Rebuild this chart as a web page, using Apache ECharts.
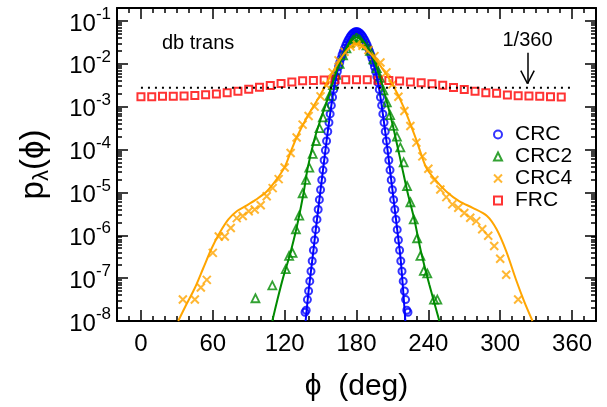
<!DOCTYPE html>
<html><head><meta charset="utf-8">
<script src="https://cdn.jsdelivr.net/npm/echarts@6/dist/echarts.min.js"></script>
<style>html,body{margin:0;padding:0;background:#fff}#c{width:607px;height:407px}</style>
</head><body><div id="c"></div>
<script>
// ---------------- data ----------------
const crcX = [137,138,139,140,141,142,143,144,145,146,147,148,149,150,151,152,153,154,155,156,157,158,159,160,161,162,163,164,165,166,167,168,169,170,171,172,173,174,175,176,177,178,179,180,181,182,183,184,185,186,187,188,189,190,191,192,193,194,195,196,197,198,199,200,201,202,203,204,205,206,207,208,209,210,211,212,213,214,215,216,217,218,219,220,221,222,223];
const crcY = [1.6e-8,1.78e-8,3.16e-8,5.01e-8,8.51e-8,1.45e-7,2.51e-7,4.47e-7,7.76e-7,1.35e-6,2.34e-6,3.98e-6,6.76e-6,1.15e-5,1.95e-5,3.31e-5,5.62e-5,9.55e-5,1.58e-4,2.63e-4,4.27e-4,6.76e-4,1.07e-3,1.66e-3,2.51e-3,3.63e-3,5.01e-3,6.61e-3,8.51e-3,1.07e-2,1.32e-2,1.62e-2,1.95e-2,2.29e-2,2.69e-2,3.09e-2,3.55e-2,3.98e-2,4.42e-2,4.79e-2,5.13e-2,5.37e-2,5.56e-2,5.62e-2,5.56e-2,5.37e-2,5.13e-2,4.79e-2,4.42e-2,3.98e-2,3.55e-2,3.09e-2,2.69e-2,2.29e-2,1.95e-2,1.62e-2,1.32e-2,1.07e-2,8.51e-3,6.61e-3,5.01e-3,3.63e-3,2.51e-3,1.66e-3,1.07e-3,6.76e-4,4.27e-4,2.63e-4,1.58e-4,9.55e-5,5.62e-5,3.31e-5,1.95e-5,1.15e-5,6.76e-6,3.98e-6,2.34e-6,1.35e-6,7.76e-7,4.47e-7,2.51e-7,1.45e-7,8.51e-8,5.01e-8,3.16e-8,1.78e-8,1.6e-8];
const crcFitX = [137.5,140,143,146,149,152,155,158,161,164,167,170,173,176,180,184,187,190,193,196,199,202,205,208,211,214,217,220.8];
const crcFitY = [1e-8,5.01e-8,2.51e-7,1.35e-6,6.76e-6,3.31e-5,1.58e-4,6.76e-4,2.51e-3,6.61e-3,1.32e-2,2.29e-2,3.55e-2,4.79e-2,5.62e-2,4.79e-2,3.55e-2,2.29e-2,1.32e-2,6.61e-3,2.51e-3,6.76e-4,1.58e-4,3.31e-5,6.76e-6,1.35e-6,2.51e-7,1e-8];

const crc2X = [95.6,109.7,120.9,123.75,126.6,129.4,132.2,135,137.8,140.6,143.4,146.25,149.1,151.9,154.7,157.5,160.3,163.1,165.9,168.75,171.6,174.4,177.2,180,182.8,185.6,188.4,191.25,194.1,196.9,199.7,202.5,205.3,208.1,210.9,213.75,216.6,219.4,222.2,225,227.8,230.6,233.4,236.25,239.1,244.7,247.5];
const crc2Y = [3.39e-8,6.76e-8,1.62e-7,3.31e-7,3.89e-7,1.38e-6,2.88e-6,9.55e-6,1.95e-5,3.8e-5,7.94e-5,1.58e-4,3.16e-4,5.62e-4,1.0e-3,1.78e-3,3.16e-3,5.5e-3,1.0e-2,1.58e-2,2.29e-2,3.09e-2,3.8e-2,4.27e-2,3.98e-2,3.39e-2,2.69e-2,2.0e-2,1.26e-2,7.94e-3,4.68e-3,2.4e-3,1.26e-3,6.31e-4,3.55e-4,2.0e-4,1.12e-4,5.01e-5,1.41e-5,5.89e-6,2.34e-6,8.51e-7,3.31e-7,1.48e-7,1.29e-7,3.16e-8,3.16e-8];
const crc2FitX = [109.7,114,118.6,124.2,129.7,135.3,139.4,145,150,155,160,165,170,175,180,185,190,195,200,205,210,214,218,222.8,228.3,233.9,240.8,249.2];
const crc2FitY = [1e-8,3.16e-8,1e-7,3.39e-7,1.38e-6,8.13e-6,3.89e-5,1.78e-4,5.01e-4,1.26e-3,3.55e-3,8.91e-3,1.91e-2,3.31e-2,4.17e-2,3.55e-2,2.24e-2,1.12e-2,4.47e-3,1.41e-3,3.98e-4,1.26e-4,3.89e-5,9.55e-6,2.34e-6,4.07e-7,7.08e-8,1e-8];

const crc4X = [35,45,50,55,60,65,70,75,80,85,90,95,100,105,110,115,120,125,130,135,140,145,150,155,160,165,170,175,180,185,190,195,200,205,210,215,220,225,230,235,240,245,250,255,260,265,270,275,280,285,290,295,300,305,315];
const crc4Y = [3.16e-8,3.16e-8,6.03e-8,9.12e-8,3.89e-7,9.33e-7,9.33e-7,1.48e-6,2.51e-6,2.82e-6,3.63e-6,3.98e-6,5.01e-6,8.13e-6,1.26e-5,2.04e-5,3.8e-5,8.32e-5,1.91e-4,3.8e-4,6.03e-4,1.0e-3,1.74e-3,3.16e-3,6.31e-3,1.2e-2,1.91e-2,2.51e-2,2.82e-2,2.63e-2,2.09e-2,1.51e-2,1.07e-2,6.31e-3,3.31e-3,1.7e-3,7.94e-4,3.55e-4,1.45e-4,6.92e-5,3.55e-5,1.95e-5,1.17e-5,7.76e-6,5.25e-6,4.37e-6,3.31e-6,2.57e-6,2.14e-6,1.38e-6,9.77e-7,5.62e-7,2.82e-7,1.2e-7,3.16e-8];
const crc4FitX = [31.1,38,45,52,59,66,73,80,88,96,105,113,120,125,130,140,150,160,170,180,190,200,210,220,230,238,245,255,266,277,289,297,305,313,320,327];
const crc4FitY = [1e-8,2.45e-8,5.89e-8,1.7e-7,4.9e-7,1.17e-6,2.34e-6,3.63e-6,4.9e-6,6.76e-6,1.05e-5,1.95e-5,3.89e-5,8.71e-5,1.91e-4,6.61e-4,1.91e-3,6.31e-3,1.78e-2,2.95e-2,1.91e-2,8.91e-3,3.31e-3,8.91e-4,1.66e-4,3.89e-5,2.09e-5,1.05e-5,6.17e-6,4.37e-6,2.82e-6,1.38e-6,4.27e-7,9.55e-8,2.88e-8,1e-8];

const frcX = [0,9,18,27,36,45,54,63,72,81,90,99,108,117,126,135,144,153,162,171,180,189,198,207,216,225,234,243,252,261,270,279,288,297,306,315,324,333,342,351];
const frcY = [1.71e-3,1.71e-3,1.74e-3,1.74e-3,1.77e-3,1.82e-3,1.90e-3,1.96e-3,2.11e-3,2.30e-3,2.56e-3,2.82e-3,3.10e-3,3.45e-3,3.74e-3,4.04e-3,4.10e-3,4.19e-3,4.22e-3,4.22e-3,4.22e-3,4.22e-3,4.12e-3,4.08e-3,3.95e-3,3.77e-3,3.62e-3,3.40e-3,3.16e-3,2.79e-3,2.51e-3,2.30e-3,2.11e-3,2.04e-3,1.86e-3,1.80e-3,1.77e-3,1.74e-3,1.71e-3,1.68e-3];

const uniformX = [0, 360];
const uniformY = [1/360, 1/360];
const arrowX = 322.8;
const arrowTopY = 1.8e-2, arrowTipY = 3.45e-3, arrowWingY = 6.95e-3, arrowWingDX = 5.6;

const xMajor = [0,60,120,180,240,300,360];
const xMinor = [-10,10,20,30,40,50,70,80,90,100,110,130,140,150,160,170,190,200,210,220,230,250,260,270,280,290,310,320,330,340,350,370];
const yMajor = [1e-8,1e-7,1e-6,1e-5,1e-4,1e-3,1e-2,1e-1];
const legendNames = ['CRC','CRC2','CRC4','FRC'];

// --------------- chart ----------------
const FONT = '"Liberation Sans", Arial, Helvetica, "DejaVu Sans", sans-serif';
const X_MIN = -20, X_MAX = 380, Y_MIN = 1e-8, Y_MAX = 0.2;
const yMinor = [];
yMajor.forEach(d => { for (let m = 2; m <= 9; m++) { const v = +(m * d).toPrecision(3); if (v < Y_MAX) yMinor.push(v); } });

const BLUE = '#0000ff', GREEN = '#008b00', ORANGE = '#ffa500', RED = '#ff0000';
const pairs = (xs, ys) => xs.map((x, i) => [x, ys[i]]);
const chart = echarts.init(document.getElementById('c'), null, {renderer: 'canvas'});

const lineBlack = {color: '#000', width: 2};
const tickStyle = {color: '#000', width: 1.5};
function xAx(pos, major, labels) {
  return {
    type: 'value', min: X_MIN, max: X_MAX, position: pos,
    axisLine: {show: major, onZero: false, lineStyle: lineBlack},
    axisTick: {show: true, inside: true, length: major ? 11 : 5, lineStyle: tickStyle, customValues: major ? xMajor : xMinor},
    axisLabel: labels ? {show: true, customValues: xMajor, fontSize: 24, color: '#000', fontFamily: FONT, margin: 11} : {show: false},
    splitLine: {show: false}
  };
}
function yAx(pos, major, labels) {
  return {
    type: 'log', logBase: 10, min: Y_MIN, max: Y_MAX, position: pos,
    axisLine: {show: major, onZero: false, lineStyle: lineBlack},
    axisTick: {show: true, inside: true, length: major ? 11 : 5, lineStyle: tickStyle, customValues: major ? yMajor : yMinor},
    axisLabel: labels ? {
      show: true, customValues: yMajor, margin: 6,
      formatter: v => '{a|10}{b|' + Math.round(Math.log10(v)) + '}',
      rich: {
        a: {fontSize: 24, fontFamily: FONT, color: '#000', lineHeight: 30, verticalAlign: 'bottom'},
        b: {fontSize: 17, fontFamily: FONT, color: '#000', verticalAlign: 'top', lineHeight: 17}
      }
    } : {show: false},
    splitLine: {show: false}
  };
}

const xAxes = [xAx('bottom', true, true), xAx('bottom', false, false), xAx('top', true, false), xAx('top', false, false)];
xAxes[0].name = 'ϕ  (deg)';
xAxes[0].nameLocation = 'middle';
xAxes[0].nameGap = 51;
xAxes[0].nameTextStyle = {fontSize: 30, fontFamily: FONT, color: '#000'};
const yAxes = [yAx('left', true, true), yAx('left', false, false), yAx('right', true, false), yAx('right', false, false)];
yAxes[0].name = '{p|p}{s|λ}{p|(ϕ)}';
yAxes[0].nameLocation = 'middle';
yAxes[0].nameGap = 64;
yAxes[0].nameRotate = 90;
yAxes[0].nameTextStyle = {
  rich: {
    p: {fontSize: 33, fontFamily: FONT, color: '#000', lineHeight: 38},
    s: {fontSize: 22, fontFamily: FONT, color: '#000', verticalAlign: 'bottom', lineHeight: 21}
  }
};

function scat(name, xs, ys, symbol, size, color, bw) {
  return {
    name, type: 'scatter', data: pairs(xs, ys), symbol, symbolSize: size,
    itemStyle: {color: 'rgba(0,0,0,0)', borderColor: color, borderWidth: bw},
    emphasis: {disabled: true}, silent: true, animation: false
  };
}
function fit(name, xs, ys, color) {
  return {
    name, type: 'line', data: pairs(xs, ys), showSymbol: false, symbol: 'none', smooth: 0.3,
    lineStyle: {color, width: 2}, silent: true, animation: false, clip: true
  };
}
const XSYM = 'path://M0,0L10,10M10,0L0,10';

const option = {
  backgroundColor: '#fff',
  animation: false,
  grid: {left: 117, right: 11, top: 8, bottom: 80, containLabel: false},
  title: {text: 'db trans', left: 162, top: 33, padding: 0, textStyle: {fontSize: 20, fontWeight: 'normal', fontFamily: FONT, color: '#000'}},
  legend: {
    data: legendNames, orient: 'vertical', left: 493, top: 124, itemWidth: 8, itemHeight: 8, itemGap: 1,
    padding: 0, selectedMode: false,
    textStyle: {fontSize: 21, fontFamily: FONT, color: '#000', lineHeight: 21, padding: [0, 0, 0, 8]}
  },
  xAxis: xAxes,
  yAxis: yAxes,
  series: [
    fit('CRC fit', crcFitX, crcFitY, BLUE),
    scat('CRC', crcX, crcY, 'circle', 7, BLUE, 2),
    fit('CRC2 fit', crc2FitX, crc2FitY, GREEN),
    scat('CRC2', crc2X, crc2Y, 'triangle', 8, GREEN, 1.8),
    fit('CRC4 fit', crc4FitX, crc4FitY, ORANGE),
    scat('CRC4', crc4X, crc4Y, XSYM, 8, ORANGE, 2),
    {
      name: 'uniform', type: 'line', data: pairs(uniformX, uniformY), showSymbol: false, symbol: 'none',
      lineStyle: {color: '#000', width: 2, type: [2, 5]}, silent: true, animation: false,
      markLine: {
        silent: true, symbol: ['none', 'none'], animation: false,
        lineStyle: {color: '#000', width: 1.5, type: 'solid'},
        label: {show: false},
        data: [
          [{coord: [arrowX, arrowTopY], label: {show: true, position: 'start', formatter: '1/360', fontSize: 20, fontFamily: FONT, color: '#000', distance: 2}}, {coord: [arrowX, arrowTipY]}],
          [{coord: [arrowX - arrowWingDX, arrowWingY]}, {coord: [arrowX, arrowTipY]}],
          [{coord: [arrowX + arrowWingDX, arrowWingY]}, {coord: [arrowX, arrowTipY]}]
        ]
      }
    },
    scat('FRC', frcX, frcY, 'rect', 7, RED, 2)
  ]
};
chart.setOption(option);
</script></body></html>
